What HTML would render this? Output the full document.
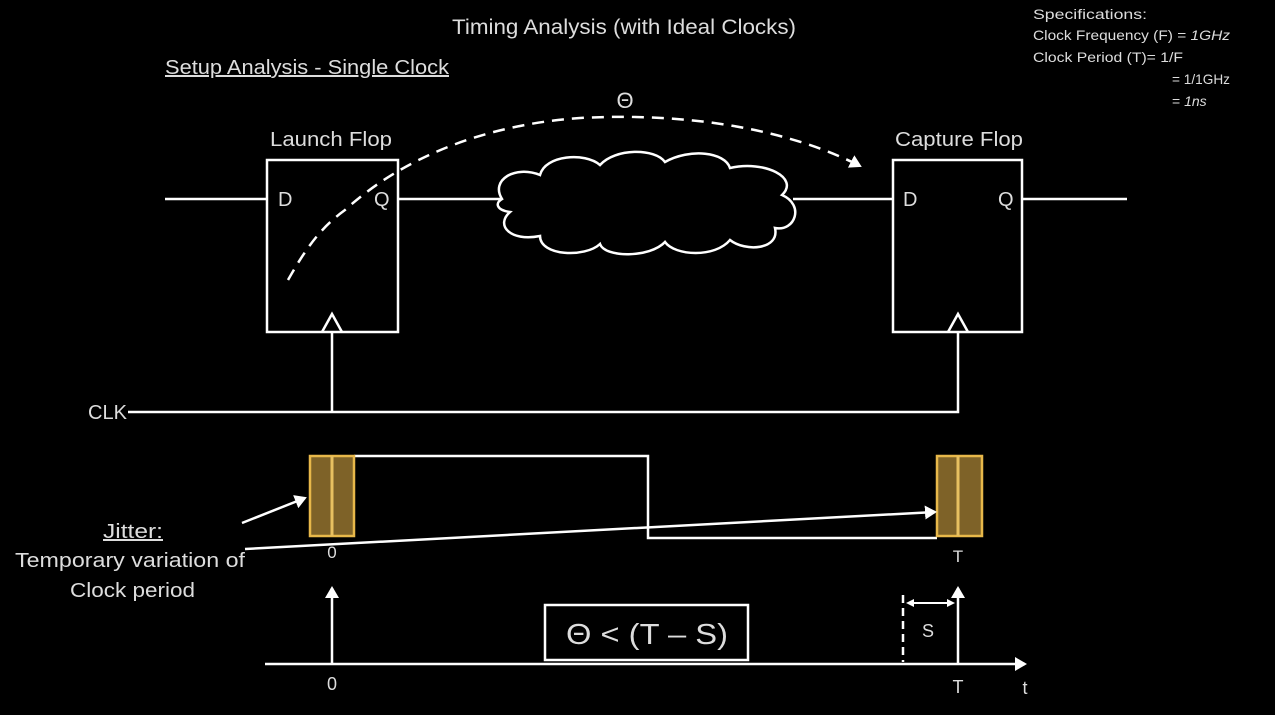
<!DOCTYPE html>
<html><head><meta charset="utf-8"><style>
html,body{margin:0;padding:0;background:#000;}
svg{display:block;font-family:"Liberation Sans",sans-serif;}
</style></head><body>
<svg width="1275" height="715" viewBox="0 0 1275 715">
<defs>
<marker id="ah" markerWidth="8" markerHeight="8" refX="6" refY="4" orient="auto" markerUnits="userSpaceOnUse"><path d="M0,0 L8,4 L0,8 z" fill="#fff"/></marker>
<marker id="ah2" markerWidth="14" markerHeight="14" refX="10" refY="7" orient="auto" markerUnits="userSpaceOnUse"><path d="M0,0 L12,7 L0,14 z" fill="#fff"/></marker>
</defs>
<text x="452" y="34" fill="#ddd" font-size="21" textLength="344" lengthAdjust="spacingAndGlyphs">Timing Analysis (with Ideal Clocks)</text>
<text x="165" y="74" fill="#ddd" font-size="20" text-decoration="underline" textLength="284" lengthAdjust="spacingAndGlyphs">Setup Analysis - Single Clock</text>
<g fill="#ddd" font-size="14">
<text x="1033" y="19" textLength="114" lengthAdjust="spacingAndGlyphs">Specifications:</text>
<text x="1033" y="40" textLength="197" lengthAdjust="spacingAndGlyphs">Clock Frequency (F) = <tspan font-style="italic">1GHz</tspan></text>
<text x="1033" y="62" textLength="150" lengthAdjust="spacingAndGlyphs">Clock Period (T)= 1/F</text>
<text x="1172" y="84" textLength="58" lengthAdjust="spacingAndGlyphs">= 1/1GHz</text>
<text x="1172" y="106">= <tspan font-style="italic">1ns</tspan></text>
</g>
<g stroke="#fff" stroke-width="2.5" fill="none">
<rect x="267" y="160" width="131" height="172"/>
<rect x="893" y="160" width="129" height="172"/>
<path d="M165 199H267M398 199H502M793 199H893M1022 199H1127"/>
<path d="M322 332L332 314L342 332M948 332L958 314L968 332"/>
<path d="M128 412H958V332M332 412V332"/>
<path d="M502 199 C490 180,515 165,540 175 C545 155,585 152,600 165 C615 148,655 148,665 162 C690 148,725 152,730 168 C765 160,800 178,782 195 C805 205,795 232,775 228 C780 250,745 252,730 240 C715 258,675 256,665 242 C650 258,605 258,600 244 C585 258,540 256,540 236 C510 242,495 225,510 212 C496 210,495 203,502 199Z"/>
<path stroke-dasharray="12 8" d="M288 280 C305 250,320 228,345 210 C400 160,480 125,580 118 C690 112,790 130,860 166" marker-end="url(#ah2)"/>
</g>
<g fill="#ddd" font-size="20">
<text x="270" y="146" textLength="122" lengthAdjust="spacingAndGlyphs">Launch Flop</text><text x="895" y="146" textLength="128" lengthAdjust="spacingAndGlyphs">Capture Flop</text>
<text x="278" y="206">D</text><text x="374" y="206">Q</text>
<text x="903" y="206">D</text><text x="998" y="206">Q</text>
<text x="88" y="419">CLK</text>
<text x="625" y="108" font-size="22" text-anchor="middle">Θ</text>
</g>
<g>
<path d="M354 456H648V538H937" stroke="#fff" stroke-width="2.5" fill="none"/>
<rect x="310" y="456" width="44" height="80" fill="#7e6228" stroke="#e8b84a" stroke-width="2.5"/>
<line x1="332" y1="456" x2="332" y2="536" stroke="#e8c060" stroke-width="3"/>
<rect x="937" y="456" width="45" height="80" fill="#7e6228" stroke="#e8b84a" stroke-width="2.5"/>
<line x1="958" y1="456" x2="958" y2="536" stroke="#e8c060" stroke-width="3"/>
<line x1="245" y1="549" x2="935" y2="512" stroke="#fff" stroke-width="2.5" marker-end="url(#ah2)"/>
<line x1="242" y1="523" x2="305" y2="498" stroke="#fff" stroke-width="2.5" marker-end="url(#ah2)"/>
</g>
<g fill="#ddd" font-size="20">
<text x="103" y="538" text-decoration="underline" textLength="60" lengthAdjust="spacingAndGlyphs">Jitter:</text>
<text x="15" y="567" textLength="230" lengthAdjust="spacingAndGlyphs">Temporary variation of</text>
<text x="70" y="597" textLength="125" lengthAdjust="spacingAndGlyphs">Clock period</text>
<text x="332" y="558" text-anchor="middle" font-size="17">0</text>
<text x="958" y="562" text-anchor="middle" font-size="17">T</text>
</g>
<g stroke="#fff" stroke-width="2.5" fill="none">
<line x1="265" y1="664" x2="1025" y2="664" marker-end="url(#ah2)"/>
<line x1="332" y1="664" x2="332" y2="588" marker-end="url(#ah2)"/>
<line x1="958" y1="664" x2="958" y2="588" marker-end="url(#ah2)"/>
<line x1="903" y1="595" x2="903" y2="662" stroke-dasharray="8 5"/>
<line x1="912" y1="603" x2="950" y2="603" stroke-width="2"/>
<path d="M906 603L914 599L914 607Z M955 603L947 599L947 607Z" fill="#fff" stroke="none"/>
<rect x="545" y="605" width="203" height="55"/>
</g>
<g fill="#ddd" font-size="18">
<text x="928" y="637" text-anchor="middle">S</text>
<text x="332" y="690" text-anchor="middle">0</text>
<text x="958" y="693" text-anchor="middle">T</text>
<text x="1025" y="694" text-anchor="middle">t</text>
<text x="566" y="644" font-size="29" textLength="162" lengthAdjust="spacingAndGlyphs">Θ &lt; (T – S)</text>
</g>
</svg>
</body></html>
